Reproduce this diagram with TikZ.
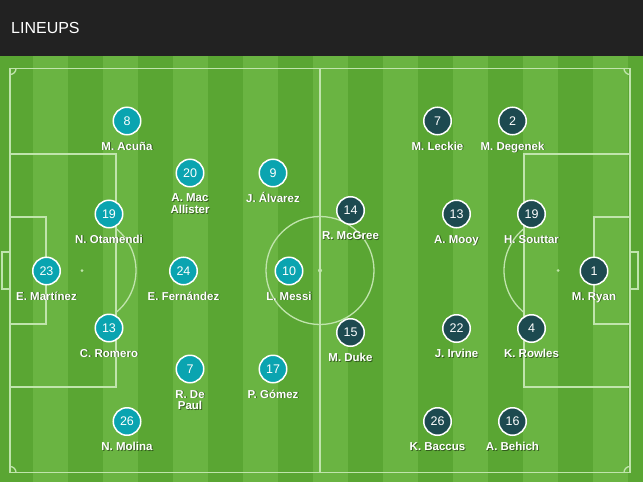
\documentclass[tikz,border=0pt]{standalone}
\usepackage{fontspec}
\setmainfont{Liberation Sans}
\definecolor{headcol}{RGB}{34,34,34}
\definecolor{darkg}{RGB}{90,166,51}
\definecolor{lightg}{RGB}{106,180,66}
\definecolor{linecol}{RGB}{192,228,172}
\definecolor{argcol}{RGB}{10,164,176}
\definecolor{auscol}{RGB}{29,74,80}
\begin{document}
\begin{tikzpicture}[x=1pt,y=-1pt,
  fieldline/.style={draw=linecol, line width=1.3pt},
  spot/.style={fill=linecol},
  arg/.style={circle, fill=argcol, draw=white, line width=1.5pt, minimum size=27.5pt, inner sep=0pt, text=white, font=\fontsize{12.5}{14}\selectfont},
  aus/.style={arg, fill=auscol},
  lbl/.style={anchor=base, align=center, inner sep=0pt, text=white, font=\fontsize{11.5}{11.6}\selectfont\bfseries},
  lblshadow/.style={lbl, text=black, text opacity=0.45}]
\useasboundingbox (0,0) rectangle (643,482);
% header
\fill[headcol] (0,0) rectangle (643,56);
\node[anchor=west, text=white, inner sep=0pt, font=\fontsize{16}{18}\selectfont] (title) at (11,28) {LINEUPS};
% pitch
\fill[darkg] (0,56) rectangle (643,482);
\foreach \s in {33,103,...,593} \fill[lightg] (\s,56) rectangle (\s+35,482);
% lines
\draw[fieldline] (10,68.5) rectangle (630,472.5);
\draw[fieldline] (320,68.5) -- (320,472.5);
\draw[fieldline] (320,270.5) circle[radius=54];
\fill[spot] (320,270.5) circle[radius=2];
\draw[fieldline] (10,154) rectangle (116,387);
\draw[fieldline] (10,217) rectangle (46,324);
\draw[fieldline] (2,252) rectangle (10,289);
\fill[spot] (82,270.5) circle[radius=1.5];
\draw[fieldline] (82,270.5) ++(-51:54) arc[start angle=-51, end angle=51, radius=54];
\draw[fieldline] (524,154) rectangle (630,387);
\draw[fieldline] (594,217) rectangle (630,324);
\draw[fieldline] (630,252) rectangle (638,289);
\fill[spot] (558,270.5) circle[radius=1.5];
\draw[fieldline] (558,270.5) ++(129:54) arc[start angle=129, end angle=231, radius=54];
\draw[fieldline] (16,68.5) arc[start angle=0, end angle=90, radius=6];
\draw[fieldline] (630,74.5) arc[start angle=90, end angle=180, radius=6];
\draw[fieldline] (10,466.5) arc[start angle=270, end angle=360, radius=6];
\draw[fieldline] (624,472.5) arc[start angle=180, end angle=270, radius=6];
% Argentina
\foreach \n/\x/\y/\num/\dy/\lab in {
  a8/127/121/8/29/{M. Acuña},
  a20/190/173/20/40.4/{A. Mac\\Allister},
  a9/273/173/9/29/{J. Álvarez},
  a19/109/214/19/29/{N. Otamendi},
  a23/46.5/271/23/29/{E. Martínez},
  a24/183.5/271/24/29/{E. Fernández},
  a10/289/271/10/29/{L. Messi},
  a13/109/328/13/29/{C. Romero},
  a7/190/369/7/40.6/{R. De\\Paul},
  a17/273/369/17/29/{P. Gómez},
  a26/127/421.5/26/29/{N. Molina}}{
  \node[arg] (\n) at (\x,\y) {\num};
  \node[lblshadow] (\n-s) at (\x+0.9,\y+\dy+0.9) {\lab};
  \node[lbl] (\n-l) at (\x,\y+\dy) {\lab};
}
% Australia
\foreach \n/\x/\y/\num/\lab in {
  b7/437.5/121/7/{M. Leckie},
  b2/512.5/121/2/{M. Degenek},
  b14/350.5/210.5/14/{R. McGree},
  b13/456.5/214/13/{A. Mooy},
  b19/531.5/214/19/{H. Souttar},
  b1/594/271/1/{M. Ryan},
  b15/350.5/332.5/15/{M. Duke},
  b22/456.5/328.5/22/{J. Irvine},
  b4/531.5/328.5/4/{K. Rowles},
  b26/437.5/421.5/26/{K. Baccus},
  b16/512.5/421.5/16/{A. Behich}}{
  \node[aus] (\n) at (\x,\y) {\num};
  \node[lblshadow] (\n-s) at (\x+0.9,\y+29.9) {\lab};
  \node[lbl] (\n-l) at (\x,\y+29) {\lab};
}
\end{tikzpicture}
\end{document}
